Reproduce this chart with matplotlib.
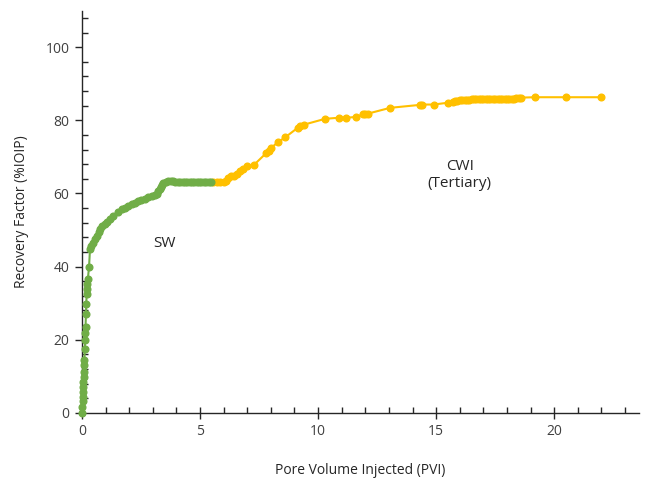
import matplotlib
matplotlib.use("Agg")
import matplotlib.pyplot as plt
from matplotlib.ticker import MultipleLocator

# SW (secondary waterflood) series
sw_x = [0.0, 0.02, 0.03, 0.04, 0.04, 0.05, 0.06, 0.07, 0.08, 0.09, 0.10, 0.12, 0.13,
        0.14, 0.15, 0.17, 0.18, 0.20, 0.21, 0.23, 0.25, 0.30, 0.34, 0.40, 0.48,
        0.55, 0.62, 0.70, 0.76, 0.85, 0.97, 1.08, 1.19, 1.33, 1.54, 1.70, 1.82,
        1.95, 2.10, 2.25, 2.39, 2.52, 2.67, 2.80, 2.95, 3.08, 3.16, 3.23, 3.30,
        3.35, 3.40, 3.45, 3.55, 3.66, 3.76, 3.86, 3.96, 4.06, 4.16, 4.26, 4.36,
        4.46, 4.56, 4.66, 4.76, 4.86, 4.96, 5.06, 5.16, 5.26, 5.36, 5.46]
sw_y = [0.0, 1.7, 3.1, 4.4, 5.8, 7.1, 8.5, 9.9, 11.2, 13.0, 14.4, 17.4, 19.8,
        21.7, 23.6, 27.1, 29.8, 32.5, 33.9, 35.2, 36.6, 40.0, 44.7, 45.5, 46.5,
        47.5, 48.4, 49.4, 50.2, 51.0, 51.5, 52.3, 52.9, 53.8, 55.0, 55.6, 56.1,
        56.5, 57.0, 57.5, 57.9, 58.2, 58.6, 58.9, 59.2, 59.5, 59.7, 60.6, 61.2,
        61.7, 62.3, 62.9, 63.1, 63.3, 63.3, 63.3, 63.2, 63.2, 63.2, 63.2, 63.2,
        63.2, 63.2, 63.2, 63.2, 63.2, 63.2, 63.2, 63.2, 63.2, 63.2, 63.2]

# CWI (tertiary carbonated water injection) series
cwi_x = [5.55, 5.70, 5.85, 6.00, 6.10, 6.20, 6.30, 6.45, 6.55, 6.70, 6.80, 7.00,
         7.30, 7.80, 7.90, 8.00, 8.30, 8.60, 9.15, 9.25, 9.40, 10.30, 10.90,
         11.20, 11.60, 11.90, 12.00, 12.10, 13.05, 14.30, 14.40, 14.90, 15.50,
         15.70, 15.80, 15.90, 16.00, 16.10, 16.20, 16.30, 16.40, 16.50, 16.60,
         16.70, 16.80, 16.90, 17.00, 17.10, 17.20, 17.30, 17.40, 17.50, 17.60,
         17.70, 17.80, 17.90, 18.00, 18.10, 18.20, 18.30, 18.40, 18.50, 18.60,
         19.20, 20.50, 22.00]
cwi_y = [63.0, 63.0, 63.0, 63.2, 63.5, 64.2, 64.7, 64.8, 65.2, 66.0, 66.6, 67.4,
         67.9, 71.0, 71.6, 72.4, 74.0, 75.3, 78.0, 78.4, 78.8, 80.4, 80.7,
         80.7, 80.9, 81.6, 81.8, 81.8, 83.4, 84.2, 84.3, 84.3, 84.8,
         85.1, 85.3, 85.4, 85.5, 85.5, 85.6, 85.6, 85.6, 85.7, 85.7,
         85.7, 85.7, 85.7, 85.8, 85.8, 85.8, 85.8, 85.8, 85.8, 85.8,
         85.9, 85.9, 85.9, 85.9, 85.9, 85.9, 85.9, 86.0, 86.0, 86.2,
         86.3, 86.3, 86.3]

plt.rcParams['font.family'] = ['Open Sans', 'DejaVu Sans']

fig = plt.figure(figsize=(6.48, 4.8), dpi=100)
ax = fig.add_axes([0.1265, 0.14, 0.86, 0.838])

green = '#70AD47'
yellow = '#FFC000'
ax.plot(sw_x, sw_y, color=green, lw=1.5, marker='o', ms=4.8, mec=green, mfc=green,
        zorder=3, clip_on=False)
ax.plot(cwi_x, cwi_y, color=yellow, lw=1.5, marker='o', ms=4.8, mec=yellow, mfc=yellow,
        zorder=2, clip_on=False)

ax.set_xlim(0, 23.6)
ax.set_ylim(0, 110)
ax.xaxis.set_major_locator(MultipleLocator(5))
ax.xaxis.set_minor_locator(MultipleLocator(1))
ax.yaxis.set_major_locator(MultipleLocator(20))
ax.yaxis.set_minor_locator(MultipleLocator(4))

for s in ['top', 'right']:
    ax.spines[s].set_visible(False)
for s in ['left', 'bottom']:
    ax.spines[s].set_color('#262626')
    ax.spines[s].set_linewidth(1.0)
    ax.spines[s].set_zorder(1)

ax.tick_params(axis='x', which='major', direction='inout', length=8, width=1, colors='#262626',
               labelsize=10, labelcolor='#404040', pad=4)
ax.tick_params(axis='x', which='minor', direction='in', length=4, width=1, colors='#262626')
ax.tick_params(axis='y', which='major', direction='out', length=5, width=1, colors='#262626',
               labelsize=10, labelcolor='#404040', pad=4)
ax.tick_params(axis='y', which='minor', direction='in', length=4, width=1, colors='#262626')

ax.set_xlabel('Pore Volume Injected (PVI)', fontsize=10, color='#262626', labelpad=17)
ax.set_ylabel('Recovery Factor (%IOIP)', fontsize=10, color='#262626', labelpad=12)

ax.text(3.5, 46.2, 'SW', fontsize=11, color='#262626', ha='center', va='center')
ax.text(16.0, 65.0, 'CWI\n(Tertiary)', fontsize=11, color='#262626', ha='center', va='center',
        linespacing=1.25)

fig.savefig('out.png', dpi=100, facecolor='white')
